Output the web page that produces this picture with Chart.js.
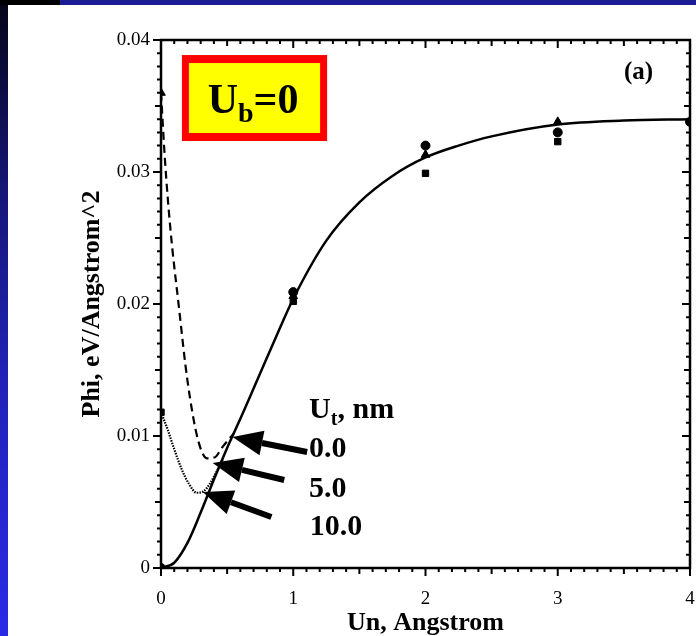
<!DOCTYPE html>
<html>
<head>
<meta charset="utf-8">
<title>Phi vs Un</title>
<script src="https://cdn.jsdelivr.net/npm/chart.js@4.4.1/dist/chart.umd.min.js"></script>
<style>
  html, body { margin: 0; padding: 0; }
  body { width: 696px; height: 636px; position: relative; overflow: hidden; background: #fff; }
  #topbar { position: absolute; left: 0; top: 0; width: 696px; height: 5px;
    background: linear-gradient(to right, #000 0, #000 60px, #1c1c94 60px, #1c1c94 100%); }
  #leftbar { position: absolute; left: 0; top: 5px; width: 8px; height: 631px;
    background: linear-gradient(to bottom, #05051a 0%, #161678 30%, #2222b8 60%, #2a2ae6 100%); }
  #wrap { position: absolute; left: 8px; top: 5px; width: 688px; height: 631px; }
</style>
</head>
<body>
<div id="topbar"></div>
<div id="leftbar"></div>
<div id="wrap"><canvas id="phiChart"></canvas></div>
<script>
// curves (Un in Angstrom, Phi in eV/Angstrom^2)
const solidX = [0, 0.1, 0.2, 0.3, 0.4, 0.5, 0.6, 0.7, 0.8, 0.9, 1.0, 1.25, 1.5, 1.75, 2.0, 2.25, 2.5, 3.0, 3.5, 4.0];
const solidY = [0, 0.0004, 0.0019, 0.0042, 0.0067, 0.0091, 0.0113, 0.0136, 0.0159, 0.0182, 0.0204, 0.0248, 0.0277, 0.0297, 0.0311, 0.0320, 0.0327, 0.0336, 0.0339, 0.0340];

const dashX = [0, 0.03, 0.07, 0.135, 0.2, 0.28, 0.35, 0.41, 0.46, 0.55];
const dashY = [0.0360, 0.0309, 0.0258, 0.0198, 0.0142, 0.0097, 0.0083, 0.0084, 0.0091, 0.0102];

const dotX = [0, 0.05, 0.1, 0.16, 0.21, 0.27, 0.32, 0.37, 0.42, 0.47];
const dotY = [0.0118, 0.0105, 0.0090, 0.0074, 0.0064, 0.0057, 0.0058, 0.0064, 0.0073, 0.0083];

// simulation points
const circleX = [0, 1, 2, 3, 4];
const circleY = [0, 0.0209, 0.0320, 0.0330, 0.0338];
const squareX = [0, 1, 2, 3];
const squareY = [0.0118, 0.0202, 0.0299, 0.0323];
const triX = [0, 1, 2, 3];
const triY = [0.0360, 0.0206, 0.0313, 0.0338];

// axes
const xTicks = [0, 1, 2, 3, 4];
const xTickLabels = ['0', '1', '2', '3', '4'];
const yTicks = [0, 0.01, 0.02, 0.03, 0.04];
const yTickLabels = ['0', '0.01', '0.02', '0.03', '0.04'];

// legend labels next to the arrows
const utTitle = 'nm';
const utLabels = ['0.0', '5.0', '10.0'];

const SERIF = '"Liberation Serif", "Times New Roman", serif';

function pts(xs, ys) {
  return xs.map((x, i) => ({ x: x, y: ys[i] }));
}

// annotation placement, in data units
const notes = {
  arrows: [
    { tip: [0.541, 0.00992], tail: [1.105, 0.00879] },
    { tip: [0.391, 0.00795], tail: [0.932, 0.00667] },
    { tip: [0.316, 0.00576], tail: [0.835, 0.00386] }
  ],
  utTitleAt: [1.12, 0.01136],
  utLabelAt: [[1.12, 0.00841], [1.12, 0.00538], [1.125, 0.0025]],
  panelAt: [3.5, 0.03705],
  box: [0.158, 0.03886, 1.256, 0.03235],
  boxTextAt: [0.353, 0.03447]
};

const framePlugin = {
  id: 'framePlugin',
  afterDatasetsDraw(chart) {
    const ctx = chart.ctx;
    const xs = chart.scales.x, ys = chart.scales.y;
    const a = chart.chartArea;
    const px = v => xs.getPixelForValue(v);
    const py = v => ys.getPixelForValue(v);

    ctx.save();
    // frame
    ctx.strokeStyle = '#000';
    ctx.lineWidth = 2.5;
    ctx.strokeRect(a.left, a.top, a.right - a.left, a.bottom - a.top);

    // ticks: outward on bottom/left, inward on top/right
    ctx.lineWidth = 2;
    ctx.beginPath();
    for (let i = 0; i <= 40; i++) {
      const p = px(i / 10);
      const len = i % 10 === 0 ? 8 : (i % 5 === 0 ? 6 : 4);
      ctx.moveTo(p, a.bottom); ctx.lineTo(p, a.bottom + len);
      ctx.moveTo(p, a.top); ctx.lineTo(p, a.top + len);
    }
    for (let i = 0; i <= 40; i++) {
      const p = py(i / 1000);
      const len = i % 10 === 0 ? 8 : (i % 5 === 0 ? 6 : 4);
      ctx.moveTo(a.left, p); ctx.lineTo(a.left - len, p);
      ctx.moveTo(a.right, p); ctx.lineTo(a.right - len, p);
    }
    ctx.stroke();

    // arrows
    ctx.fillStyle = '#000';
    notes.arrows.forEach(ar => {
      const tx = px(ar.tip[0]), ty = py(ar.tip[1]);
      const sx = px(ar.tail[0]), sy = py(ar.tail[1]);
      const ang = Math.atan2(ty - sy, tx - sx);
      const headLen = 30, headHalf = 12.5;
      const bx = tx - headLen * Math.cos(ang), by = ty - headLen * Math.sin(ang);
      ctx.lineWidth = 6;
      ctx.beginPath();
      ctx.moveTo(sx, sy); ctx.lineTo(bx, by);
      ctx.stroke();
      ctx.beginPath();
      ctx.moveTo(tx, ty);
      ctx.lineTo(bx + headHalf * Math.sin(ang), by - headHalf * Math.cos(ang));
      ctx.lineTo(bx - headHalf * Math.sin(ang), by + headHalf * Math.cos(ang));
      ctx.closePath();
      ctx.fill();
    });

    // Ut, nm legend
    ctx.textBaseline = 'alphabetic';
    ctx.textAlign = 'left';
    let x0 = px(notes.utTitleAt[0]), y0 = py(notes.utTitleAt[1]);
    ctx.font = 'bold 30px ' + SERIF;
    ctx.fillText('U', x0, y0);
    x0 += ctx.measureText('U').width;
    ctx.font = 'bold 20px ' + SERIF;
    ctx.fillText('t', x0, y0 + 7);
    x0 += ctx.measureText('t').width;
    ctx.font = 'bold 30px ' + SERIF;
    ctx.fillText(', ' + utTitle, x0, y0);
    utLabels.forEach((t, i) => {
      ctx.fillText(t, px(notes.utLabelAt[i][0]), py(notes.utLabelAt[i][1]));
    });

    // panel tag
    ctx.font = 'bold 25px ' + SERIF;
    ctx.fillText('(a)', px(notes.panelAt[0]), py(notes.panelAt[1]));

    // Ub=0 box
    const bx0 = px(notes.box[0]), by0 = py(notes.box[1]);
    const bx1 = px(notes.box[2]), by1 = py(notes.box[3]);
    ctx.fillStyle = '#ff0000';
    ctx.fillRect(bx0, by0, bx1 - bx0, by1 - by0);
    ctx.fillStyle = '#ffff00';
    ctx.fillRect(bx0 + 7, by0 + 8, bx1 - bx0 - 14, by1 - by0 - 16);
    ctx.fillStyle = '#000';
    let tx = px(notes.boxTextAt[0]);
    const tyb = py(notes.boxTextAt[1]);
    ctx.font = 'bold 42px ' + SERIF;
    ctx.fillText('U', tx, tyb);
    tx += ctx.measureText('U').width;
    ctx.font = 'bold 28px ' + SERIF;
    ctx.fillText('b', tx, tyb + 9);
    tx += ctx.measureText('b').width;
    ctx.font = 'bold 42px ' + SERIF;
    ctx.fillText('=0', tx, tyb);
    ctx.restore();
  }
};

const lineStyle = { borderColor: '#000', backgroundColor: '#000', showLine: true, pointRadius: 0, fill: false, cubicInterpolationMode: 'monotone' };
const markStyle = { borderColor: '#000', backgroundColor: '#000', showLine: false, borderWidth: 1 };

new Chart(document.getElementById('phiChart'), {
  type: 'scatter',
  data: {
    datasets: [
      Object.assign({ label: '0.0', data: pts(solidX, solidY), borderWidth: 2.5 }, lineStyle),
      Object.assign({ label: '5.0', data: pts(dashX, dashY), borderWidth: 2.2, borderDash: [8, 5] }, lineStyle),
      Object.assign({ label: '10.0', data: pts(dotX, dotY), borderWidth: 2.2, borderDash: [1.5, 1.2] }, lineStyle),
      Object.assign({ label: 'circles', data: pts(circleX, circleY), pointStyle: 'circle', pointRadius: 4.5 }, markStyle),
      Object.assign({ label: 'squares', data: pts(squareX, squareY), pointStyle: 'rect', pointRadius: 4.5 }, markStyle),
      Object.assign({ label: 'triangles', data: pts(triX, triY), pointStyle: 'triangle', pointRadius: 5 }, markStyle)
    ]
  },
  options: {
    responsive: true,
    maintainAspectRatio: false,
    animation: false,
    layout: { padding: { top: 35, right: 4, left: 0, bottom: 0 } },
    plugins: { legend: { display: false }, tooltip: { enabled: false } },
    scales: {
      x: {
        type: 'linear', min: 0, max: 4,
        afterBuildTicks: s => { s.ticks = xTicks.map(v => ({ value: v })); },
        afterFit: s => { s.height = 68; s.paddingLeft = 0; s.paddingRight = 0; },
        ticks: {
          color: '#000', padding: 20, maxRotation: 0,
          font: { family: SERIF, size: 19 },
          callback: v => xTickLabels[xTicks.indexOf(v)]
        },
        grid: { display: false, drawTicks: false },
        border: { display: false },
        title: {
          display: true, text: 'Un, Angstrom', color: '#000', padding: 0,
          font: { family: SERIF, size: 26, weight: 'bold', lineHeight: 1 }
        }
      },
      y: {
        type: 'linear', min: 0, max: 0.04,
        afterBuildTicks: s => { s.ticks = yTicks.map(v => ({ value: v })); },
        afterFit: s => { s.width = 153; s.paddingTop = 0; s.paddingBottom = 0; },
        ticks: {
          color: '#000', padding: 11,
          font: { family: SERIF, size: 19 },
          callback: v => yTickLabels[yTicks.indexOf(v)]
        },
        grid: { display: false, drawTicks: false },
        border: { display: false },
        title: {
          display: true, text: 'Phi, eV/Angstrom^2', color: '#000',
          padding: { top: 71, bottom: 0 },
          font: { family: SERIF, size: 26, weight: 'bold', lineHeight: 1 }
        }
      }
    }
  },
  plugins: [framePlugin]
});
</script>
</body>
</html>
